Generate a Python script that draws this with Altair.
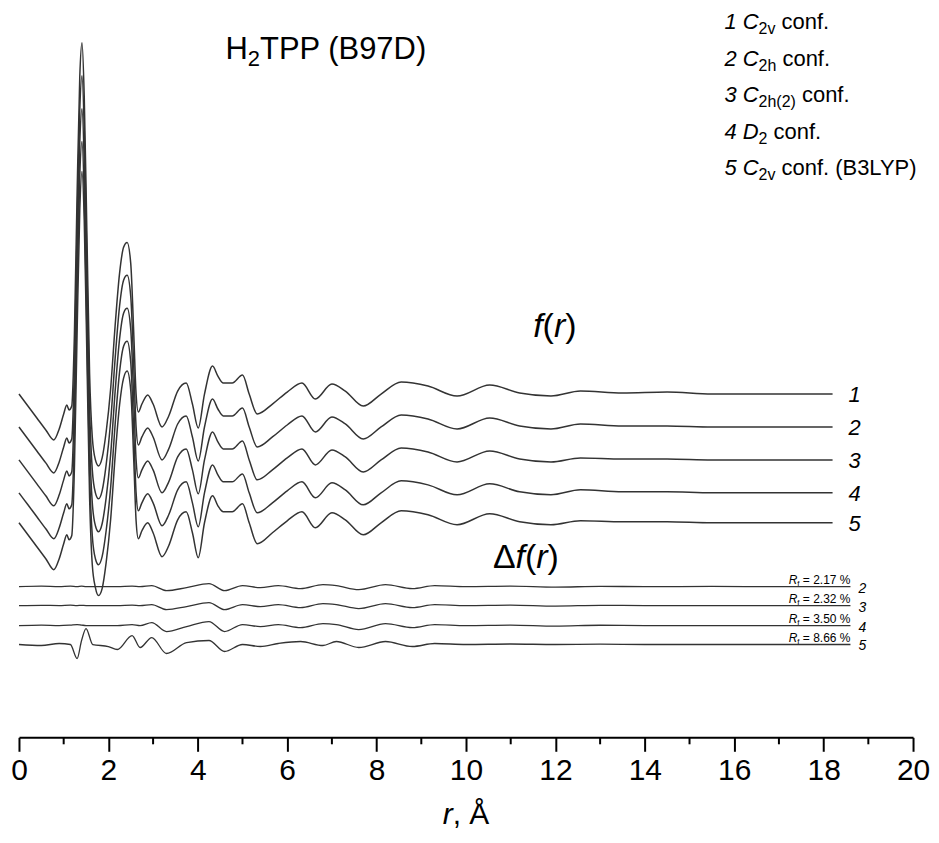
import altair as alt
import pandas as pd

# ---------------- data ----------------
# radial grid for f(r) curves (Å)
R_F = [0.0, 0.2, 0.4, 0.6, 0.78, 0.9, 1.0, 1.07, 1.12, 1.18, 1.24, 1.30, 1.36, 1.41, 1.46, 1.52,
       1.58, 1.64, 1.71, 1.78, 1.86, 1.95, 2.05, 2.15, 2.25, 2.34, 2.42, 2.50, 2.57, 2.62, 2.67,
       2.75, 2.88, 3.0, 3.2, 3.35, 3.55, 3.74, 3.88, 4.01, 4.15, 4.33, 4.45, 4.57, 4.77, 5.0,
       5.15, 5.33, 5.67, 6.0, 6.33, 6.63, 7.0, 7.3, 7.7, 8.1, 8.55, 9.15, 9.8, 10.53, 11.2, 11.9,
       12.56, 13.5, 14.5, 15.5, 16.5, 17.5, 18.2]
F1 = [0, -12, -24, -36, -46, -35, -20, -11, -16, -12, 60, 200, 318, 352, 298, 160,
      20, -43, -66, -72, -64, -38, 5, 68, 121, 147, 152, 131, 58, 0, -18,
      -10, -1, -10, -33, -22, 3, 11, -10, -34, 0, 28, 18, 11, 11, 19,
      0, -20, -10, 2, 11, -5, 10, 3, -12, 0, 12, 8, -2, 9, 1, -2,
      3, 1, 2, 0, 0, 0, 0]
F2 = [0, -12, -24, -36, -46, -35, -20, -11, -16, -12, 60, 200, 318, 352, 298, 160,
      20, -43, -66, -72, -64, -38, 5, 68, 121, 147, 152, 131, 58, 0, -18,
      -10, -1, -10, -33, -22, 3, 11, -10, -34, 0, 28, 18, 11, 11, 19,
      0, -20, -10, 2, 11, -5, 10, 3, -12, 0, 12, 8, -2, 9, 1, -2,
      3, 1, 1, 0, 0, 0, 0]
F3 = [0, -12, -24, -36, -46, -35, -20, -11, -16, -12, 60, 200, 318, 352, 298, 160,
      20, -43, -66, -72, -64, -38, 5, 68, 121, 147, 152, 131, 58, 0, -18,
      -10, -1, -10, -33, -22, 3, 11, -10, -34, 0, 28, 18, 11, 11, 19,
      0, -20, -10, 2, 11, -5, 10, 3, -12, 0, 12, 8, -2, 9, 1, -2,
      2, 1, 1, 0, 0, 0, 0]
F4 = [0, -12, -24, -36, -46, -35, -20, -11, -16, -12, 60, 200, 318, 352, 298, 160,
      20, -43, -66, -72, -64, -38, 5, 68, 121, 147, 152, 131, 58, 0, -18,
      -10, -1, -10, -33, -22, 3, 11, -10, -34, 0, 28, 18, 11, 11, 19,
      0, -20, -10, 2, 11, -5, 10, 3, -12, 0, 12, 8, -2, 9, 1, -2,
      3, 1, 1, 0, 0, 0, 0]
F5 = [0, -12, -24, -36, -47, -36, -21, -12, -17, -13, 55, 190, 313, 352, 303, 165,
      25, -42, -65, -73, -66, -40, 3, 66, 118, 145, 152, 133, 60, 2, -16,
      -8, 0, -10, -34, -23, 3, 11, -10, -35, 0, 27, 17, 11, 11, 19,
      0, -21, -10, 2, 11, -5, 10, 3, -12, 0, 12, 8, -2, 9, 1, -2,
      2, 1, 1, 0, 0, 0, 0]
F_CURVES = [F1, F2, F3, F4, F5]
F_NAMES = ["1", "2", "3", "4", "5"]
F_OFFSETS = [344, 311, 278, 245, 215]

# radial grid for difference curves
R_D = [0, 0.5, 0.9, 1.15, 1.3, 1.4, 1.5, 1.65, 2.0, 2.2, 2.53, 2.71, 2.97, 3.3, 3.75, 4.25,
       4.6, 5.0, 5.4, 5.8, 6.3, 6.8, 7.1, 7.6, 8.2, 8.8, 9.3, 10.0, 11.0, 12.0, 13.0, 14.0,
       15.5, 17.0, 18.6]
D2 = [0, 0.5, 0, 0.5, 0, 0.5, 0, 0, 0, 0, 0.5, 0, 1, -4, -1, 3,
      -4, 1, -1, 1, -2, 2, 1, -3, 2, -2, 1, 0, 0.5, -0.5, 0.3, 0,
      0.2, 0, 0]
D3 = [0, 0.3, 0, 0.5, 0, 0.3, 0, 0, 0, 0, 0.5, 0, 1, -4, -1, 3,
      -4, 1, -1, 1, -2, 2, 1, -3, 2, -2, 1, 0, 0.5, -0.5, 0.3, 0,
      0, 0, 0]
D4 = [0, 0.5, 0, 0.5, 1, 0.5, 0, 0, 0, 0, 1, 0, 3, -6, -1, 4,
      -6, 1, -1, 1, -2, 2, 1, -4, 2, -2, 1, 0, 0.5, -0.5, 0.3, 0,
      0, 0, 0]
D5 = [0, -1, 1, 0, -14, 4, 16, 0, -2, -5, 9, -3, 7, -9, 2, 4,
      -7, 0, -2, 1, 3, -1, 3, -3, 3, -2, 1, 0, 0.5, 0, 0.3, 0,
      0, 0, 0]
D_CURVES = [D2, D3, D4, D5]
D_NAMES = ["2", "3", "4", "5"]
D_RF = ["2.17", "2.32", "3.50", "8.66"]
D_OFFSETS = [151, 132, 112, 93]

X_TICKS = [0, 2, 4, 6, 8, 10, 12, 14, 16, 18, 20]
X_MINOR = [1, 3, 5, 7, 9, 11, 13, 15, 17, 19]

# ---------------- layout ----------------
W, H = 896, 730
PAD_L, PAD_T, PAD_R, PAD_B = 11, 0, 18, 92
X0 = 8 + PAD_L   # page x of plot origin
Y0 = 8 + PAD_T   # page y of plot origin
FONT = "Liberation Sans"
LINE_COLOR = "#333333"

xs = alt.Scale(domain=[0, 20], nice=False, zero=False)
ys = alt.Scale(domain=[0, H], nice=False, zero=False)

rows = []
for name, vals, off in zip(F_NAMES, F_CURVES, F_OFFSETS):
    for r, v in zip(R_F, vals):
        rows.append({"r": r, "y": v + off, "curve": "f" + name})
df_f = pd.DataFrame(rows)
rows = []
for name, vals, off in zip(D_NAMES, D_CURVES, D_OFFSETS):
    for r, v in zip(R_D, vals):
        rows.append({"r": r, "y": v + off, "curve": "d" + name})
df_d = pd.DataFrame(rows)

base_x = alt.X("r:Q", scale=xs,
               axis=alt.Axis(values=X_TICKS, tickSize=14, tickWidth=2, domainWidth=2,
                             domainColor="black", tickColor="black", labelFontSize=30,
                             labelFont=FONT, labelColor="black", labelPadding=4,
                             title=None, grid=False, labelFlush=False, format="d"))
y_enc = alt.Y("y:Q", scale=ys, axis=None)

f_lines = alt.Chart(df_f).mark_line(color=LINE_COLOR, strokeWidth=1.5, interpolate="monotone").encode(
    x=base_x, y=y_enc, detail="curve:N")
d_lines = alt.Chart(df_d).mark_line(color=LINE_COLOR, strokeWidth=1.3, interpolate="monotone").encode(
    x=alt.X("r:Q", scale=xs), y=y_enc, detail="curve:N")

minor = alt.Chart(pd.DataFrame({"r": X_MINOR})).mark_rule(color="black", strokeWidth=2).encode(
    x=alt.X("r:Q", scale=xs), y=alt.value(H), y2=alt.value(H + 7))

# ---------------- text helpers ----------------
WID = {' ': 278, '(': 333, ')': 333, '.': 278, ',': 278, '%': 889, '=': 584, 'A': 667, 'B': 667,
       'C': 722, 'D': 722, 'H': 722, 'L': 556, 'P': 667, 'R': 722, 'T': 611, 'Y': 667, 'c': 500,
       'f': 278, 'h': 556, 'n': 556, 'o': 556, 'r': 333, 'v': 500, 'Å': 667, 'Δ': 668}


def tw(s, size):
    return sum(WID.get(ch, 556) for ch in s) / 1000.0 * size


ONE = alt.Data(values=[{"k": 0}])


def txt(s, x, y, size, italic):
    return alt.Chart(ONE).mark_text(
        align="left", baseline="alphabetic", fontSize=size, font=FONT, color="black",
        fontStyle="italic" if italic else "normal").encode(
        x=alt.value(x - X0), y=alt.value(y - Y0), text=alt.value(s))


def rich(pieces, x, y, anchor="left"):
    total = sum(tw(p[0], p[1]) for p in pieces)
    if anchor == "right":
        x -= total
    elif anchor == "center":
        x -= total / 2
    out = []
    for s, size, italic, dy in pieces:
        core = s.lstrip(" ")
        x += tw(s[:len(s) - len(core)], size)   # leading blanks are collapsed in SVG
        out.append(txt(core.rstrip(" "), x, y + dy, size, italic))
        x += tw(core, size)
    return out


texts = []
# title
texts += rich([("H", 31, False, 0), ("2", 22, False, 7), ("TPP (B97D)", 31, False, 0)], 226, 58)
# legend
LS, SS = 22, 16
leg = [
    [("1 ", LS, True, 0), ("C", LS, True, 0), ("2v", SS, False, 5), (" conf.", LS, False, 0)],
    [("2 ", LS, True, 0), ("C", LS, True, 0), ("2h", SS, False, 5), (" conf.", LS, False, 0)],
    [("3 ", LS, True, 0), ("C", LS, True, 0), ("2h(2)", SS, False, 5), (" conf.", LS, False, 0)],
    [("4 ", LS, True, 0), ("D", LS, True, 0), ("2", SS, False, 5), (" conf.", LS, False, 0)],
    [("5 ", LS, True, 0), ("C", LS, True, 0), ("2v", SS, False, 5), (" conf. (B3LYP)", LS, False, 0)],
]
LEG_BASE = [28, 65, 101, 138, 174]
for line, yb in zip(leg, LEG_BASE):
    texts += rich(line, 726, yb)
# f(r), Δf(r)
texts += rich([("f", 34, True, 0), ("(", 34, False, 0), ("r", 34, True, 0), (")", 34, False, 0)], 556, 337, "center")
texts += rich([("Δ", 34, False, 0), ("f", 34, True, 0), ("(", 34, False, 0), ("r", 34, True, 0), (")", 34, False, 0)], 527, 568, "center")
# axis title
texts += rich([("r", 30, True, 0), (", Å", 30, False, 0)], X0 + W / 2, 825, "center")


def px_x(r):
    return X0 + r / 20.0 * W


def px_y(v):
    return Y0 + H - v


# curve numbers for f(r)
for name, off in zip(F_NAMES, F_OFFSETS):
    texts += rich([(name, 22, True, 0)], px_x(R_F[-1]) + 22, px_y(off) + 8, "center")
# R_f labels and numbers for Δf(r)
end_x = px_x(R_D[-1])
for name, rf, off in zip(D_NAMES, D_RF, D_OFFSETS):
    yb = px_y(off)
    texts += rich([("R", 12, True, 0), ("f", 8, False, 2), (" = " + rf + " %", 12, False, 0)], end_x, yb - 3, "right")
    texts += rich([(name, 14, True, 0)], end_x + 12, yb + 6, "center")

chart = alt.layer(f_lines, d_lines, minor, *texts).properties(
    width=W, height=H,
    background="white",
    autosize=alt.AutoSizeParams(type="none"),
    padding={"left": PAD_L, "top": PAD_T, "right": PAD_R, "bottom": PAD_B},
).configure_view(stroke=None, strokeWidth=0)

chart.save("out.html", embed_options={"renderer": "svg", "actions": False})
